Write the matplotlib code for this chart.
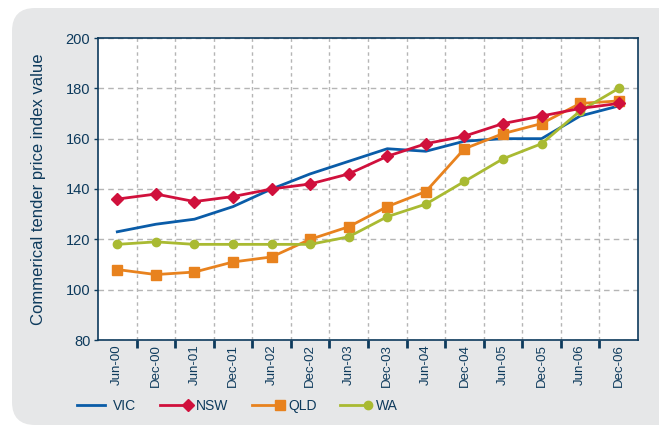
import numpy as np
import matplotlib
matplotlib.use('Agg')
import matplotlib.pyplot as plt
from matplotlib.patches import FancyBboxPatch
from matplotlib.legend_handler import HandlerLine2D

# datos
periodos = ['Jun-00', 'Dec-00', 'Jun-01', 'Dec-01', 'Jun-02', 'Dec-02', 'Jun-03',
            'Dec-03', 'Jun-04', 'Dec-04', 'Jun-05', 'Dec-05', 'Jun-06', 'Dec-06']
vic = [123, 126, 128, 133, 140, 146, 151, 156, 155, 159, 160, 160, 169, 173]
nsw = [136, 138, 135, 137, 140, 142, 146, 153, 158, 161, 166, 169, 172, 174]
qld = [108, 106, 107, 111, 113, 120, 125, 133, 139, 156, 162, 166, 174, 175]
wa = [118, 119, 118, 118, 118, 118, 121, 129, 134, 143, 152, 158, 171, 180]

azul_texto = '#0d3a5c'
c_vic = '#0a5ca8'
c_nsw = '#d0103c'
c_qld = '#e8821e'
c_wa = '#a9ba32'

plt.rcParams['font.family'] = ['Liberation Sans', 'DejaVu Sans']

fig = plt.figure(figsize=(6.59, 4.26), dpi=100)
fig.patch.set_facecolor('white')

# panel gris de fondo
W, H = 659, 426
panel = FancyBboxPatch((12 / W, 1 / H), 700 / W, 417 / H,
                       boxstyle='round,pad=0,rounding_size=0.035',
                       transform=fig.transFigure, facecolor='#e6e7e8',
                       edgecolor='none', zorder=-5, mutation_aspect=W / H)
fig.patches.append(panel)

ax = fig.add_axes([98 / W, (H - 340) / H, 540 / W, 302 / H])
ax.set_facecolor('white')

x = np.arange(len(periodos))
l_vic, = ax.plot(x, vic, color=c_vic, lw=2.0, label='VIC', zorder=3)
l_qld, = ax.plot(x, qld, color=c_qld, lw=2.0, marker='s', ms=6.5, label='QLD', zorder=4)
l_wa, = ax.plot(x, wa, color=c_wa, lw=2.0, marker='o', ms=6, label='WA', zorder=5)
l_nsw, = ax.plot(x, nsw, color=c_nsw, lw=2.0, marker='D', ms=6, label='NSW', zorder=6)

ax.set_xlim(-0.5, len(periodos) - 0.5)
ax.set_ylim(80, 200)
ax.set_yticks(np.arange(80, 201, 20))
ax.set_xticks(x)
ax.set_xticklabels(periodos, rotation=90, fontsize=9.5, color=azul_texto)
ax.set_xticks(x[:-1] + 0.5, minor=True)

ax.tick_params(axis='x', which='major', length=0, pad=3)
ax.tick_params(axis='x', which='minor', length=6, width=2, color=azul_texto, direction='out')
ax.tick_params(axis='y', length=3, width=1, color=azul_texto, pad=2.5,
               labelsize=10.5, labelcolor=azul_texto)

ax.yaxis.grid(True, color='#b5b5b5', lw=1, ls=(0, (4, 3)))
ax.xaxis.grid(True, which='minor', color='#b5b5b5', lw=1, ls=(0, (2.5, 2.5)))
ax.set_axisbelow(True)

for s in ax.spines.values():
    s.set_color(azul_texto)
    s.set_linewidth(1.2)

ax.set_ylabel('Commerical tender price index value', fontsize=12, color=azul_texto)
ax.yaxis.set_label_coords(-0.097, 0.5)


class MarcadorAlFinal(HandlerLine2D):
    def create_artists(self, *args, **kwargs):
        arts = super().create_artists(*args, **kwargs)
        arts[0].set_markevery([2])
        return arts


leg = fig.legend([l_vic, l_nsw, l_qld, l_wa], ['VIC', 'NSW', 'QLD', 'WA'],
                 loc='center left', bbox_to_anchor=(77 / W, (H - 406) / H),
                 ncol=4, frameon=False, borderpad=0, borderaxespad=0,
                 handlelength=2.0, handletextpad=0.6, columnspacing=1.7,
                 numpoints=1, handler_map={matplotlib.lines.Line2D: MarcadorAlFinal()},
                 prop={'size': 10})
for t in leg.get_texts():
    t.set_color(azul_texto)

fig.savefig('out.png', dpi=100)
